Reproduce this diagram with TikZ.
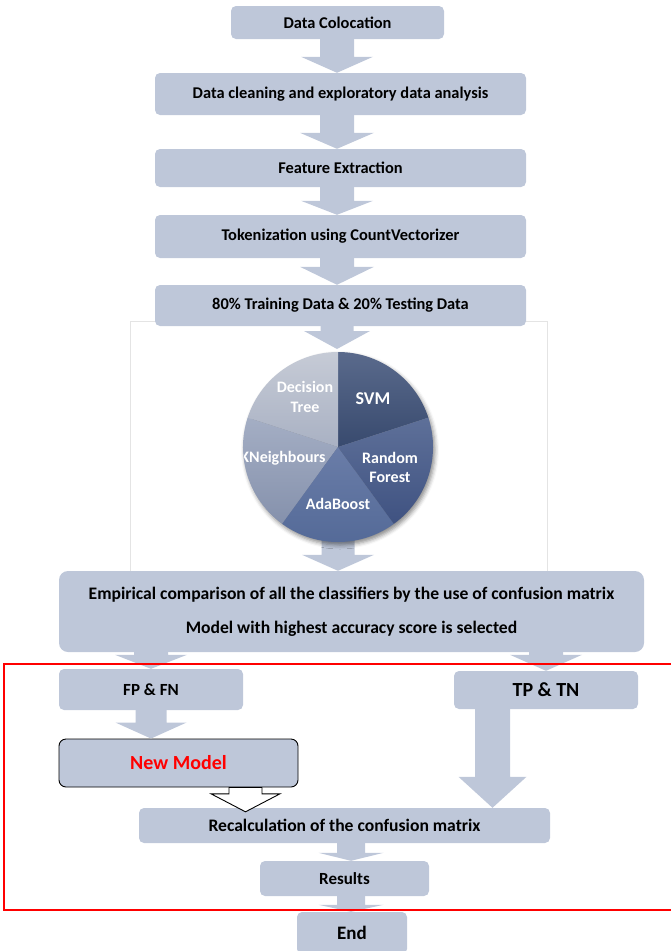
\documentclass[tikz,border=0pt]{standalone}
\usepackage{fontspec}
\setmainfont{Carlito}
\usetikzlibrary{shadows.blur}
\definecolor{boxfill}{HTML}{BEC7D9}
\definecolor{framegray}{HTML}{E4E4E4}
\definecolor{dtA}{HTML}{C6CBD6}\definecolor{dtB}{HTML}{A9B1C3}
\definecolor{knA}{HTML}{A4AEC4}\definecolor{knB}{HTML}{8591AC}
\definecolor{adA}{HTML}{6A7DA8}\definecolor{adB}{HTML}{536997}
\definecolor{rfA}{HTML}{5E7099}\definecolor{rfB}{HTML}{3F5281}
\definecolor{svA}{HTML}{5A6A8C}\definecolor{svB}{HTML}{384A6E}
\newcommand\blockarrow[6][fill=boxfill]{%
  \path[#1] let \p1=(#2), \p2=(#3) in
  (\x1-#4,\y1) -- (\x1+#4,\y1) -- (\x1+#4,\y2+#6) -- (\x1+#5,\y2+#6) -- (\x1,\y2)
  -- (\x1-#5,\y2+#6) -- (\x1-#4,\y2+#6) -- cycle;}
\begin{document}
\begin{tikzpicture}[x=1pt,y=-1pt,
  box/.style={fill=boxfill, rounded corners=5pt, inner sep=0pt, align=center,
    font=\bfseries\fontsize{16.4}{19}\selectfont},
  lbl/.style={text=white, align=center, inner sep=0pt,
    font=\bfseries\fontsize{16}{20}\selectfont}]
\useasboundingbox (0,0) rectangle (670,951);
\coordinate (axis) at (337,0);
\draw[framegray, line width=0.6pt] (130,321) rectangle (547,571);

% boxes
\node[box, minimum width=213pt, minimum height=33pt] (dc) at (337.5,22.5) {Data Colocation};
\node[box, minimum width=371pt, minimum height=42pt] (dce) at (340.5,94) {Data cleaning and exploratory data analysis};
\node[box, minimum width=371pt, minimum height=38pt] (fe) at (340.5,168) {Feature Extraction};
\node[box, minimum width=371pt, minimum height=43pt] (tok) at (340.5,236.5) {Tokenization using CountVectorizer};
\node[box, minimum width=371pt, minimum height=41pt] (split) at (340.5,305.5) {80\% Training Data \& 20\% Testing Data};
\node[circle, minimum size=190pt, inner sep=0pt] (pie) at (338,447) {};
\coordinate (pietop) at (339,349);
\node[box, rounded corners=9pt, minimum width=585pt, minimum height=81pt,
  font=\bfseries\fontsize{17.6}{20}\selectfont] (big) at (351.5,611.5)
  {Empirical comparison of all the classifiers by the use of confusion matrix\\[14pt]Model with highest accuracy score is selected};
\node[box, minimum width=184pt, minimum height=41pt, font=\bfseries\fontsize{17}{20}\selectfont] (fp) at (151,689.5) {FP \& FN};
\node[box, minimum width=184pt, minimum height=38pt, font=\bfseries\fontsize{20}{24}\selectfont] (tp) at (546,690) {TP \& TN};
\node[box, draw=black, line width=0.9pt, rounded corners=7pt, minimum width=239pt, minimum height=48pt,
  text=red, font=\bfseries\fontsize{20}{24}\selectfont] (nm) at (178.5,763) {New Model};
\node[box, minimum width=411pt, minimum height=35pt, font=\bfseries\fontsize{17.6}{20}\selectfont] (rc) at (344.5,825.5) {Recalculation of the confusion matrix};
\node[box, minimum width=169pt, minimum height=35pt, font=\bfseries\fontsize{17}{20}\selectfont] (res) at (344.5,878.5) {Results};
\node[box, minimum width=110pt, minimum height=42pt, font=\bfseries\fontsize{19}{23}\selectfont] (fin) at (352,933) {End};

% block arrows
\blockarrow{dc.south -| axis}{dce.north -| axis}{17pt}{36pt}{16pt}
\blockarrow{dce.south -| axis}{fe.north -| axis}{17pt}{37pt}{16pt}
\blockarrow{fe.south -| axis}{tok.north -| axis}{17pt}{36pt}{14pt}
\blockarrow{tok.south -| axis}{split.north -| axis}{17pt}{37pt}{18pt}
\blockarrow{split.south -| axis}{pietop}{16.5pt}{33pt}{18pt}
\blockarrow{pie.center}{big.north}{16.5pt}{36pt}{16pt}
\blockarrow{big.south -| fp}{fp.north}{17pt}{36pt}{14pt}
\blockarrow{big.south -| tp}{tp.north}{17pt}{36pt}{16pt}
\blockarrow{fp.south}{nm.north -| fp}{15.5pt}{35.5pt}{16pt}
\coordinate (tpout) at ([xshift=-53.5pt]tp.south);
\blockarrow{tpout}{rc.north -| tpout}{17.5pt}{34pt}{31pt}
\coordinate (nmout) at ([xshift=67pt]nm.south);
\coordinate (rcin) at ([yshift=-4pt]rc.north -| nmout);
\blockarrow[fill=white, draw=black, line width=0.9pt, line join=miter]{nmout}{rcin}{16.5pt}{34.5pt}{18pt}
\coordinate (rcout) at ([xshift=6.5pt]rc.south);
\blockarrow{rcout}{res.north -| rcout}{14pt}{32.5pt}{8pt}
\blockarrow{res.south -| rcout}{fin.north -| rcout}{14pt}{32.5pt}{7pt}

% pie chart
\path[blur shadow={shadow xshift=2pt, shadow yshift=-3pt, shadow blur radius=4pt, shadow opacity=45}]
  (pie.center) circle[radius=95pt];
\shade[top color=svA, bottom color=svB] (pie.center) -- ++(90:95pt) arc[start angle=90, end angle=18, radius=95pt] -- cycle;
\shade[top color=dtA, bottom color=dtB] (pie.center) -- ++(162:95pt) arc[start angle=162, end angle=90, radius=95pt] -- cycle;
\shade[top color=knA, bottom color=knB] (pie.center) -- ++(234:95pt) arc[start angle=234, end angle=162, radius=95pt] -- cycle;
\shade[top color=adA, bottom color=adB] (pie.center) -- ++(306:95pt) arc[start angle=306, end angle=234, radius=95pt] -- cycle;
\shade[top color=rfA, bottom color=rfB] (pie.center) -- ++(378:95pt) arc[start angle=378, end angle=306, radius=95pt] -- cycle;
\begin{scope}
\clip (pie.center) circle[radius=95pt];
\node[lbl] (ldt) at (305,397) {Decision\\Tree};
\node[lbl, font=\bfseries\fontsize{18}{22}\selectfont] (lsvm) at (373,399) {SVM};
\node[lbl] (lkn) at (283,458) {KNeighbours};
\node[lbl, font=\bfseries\fontsize{16}{19}\selectfont] (lrf) at (390,467.5) {Random\\Forest};
\node[lbl] (lab) at (338,504) {AdaBoost};
\end{scope}

% red frame
\draw[red, line width=1.3pt] (4,664) rectangle (673,910);
\end{tikzpicture}
\end{document}
